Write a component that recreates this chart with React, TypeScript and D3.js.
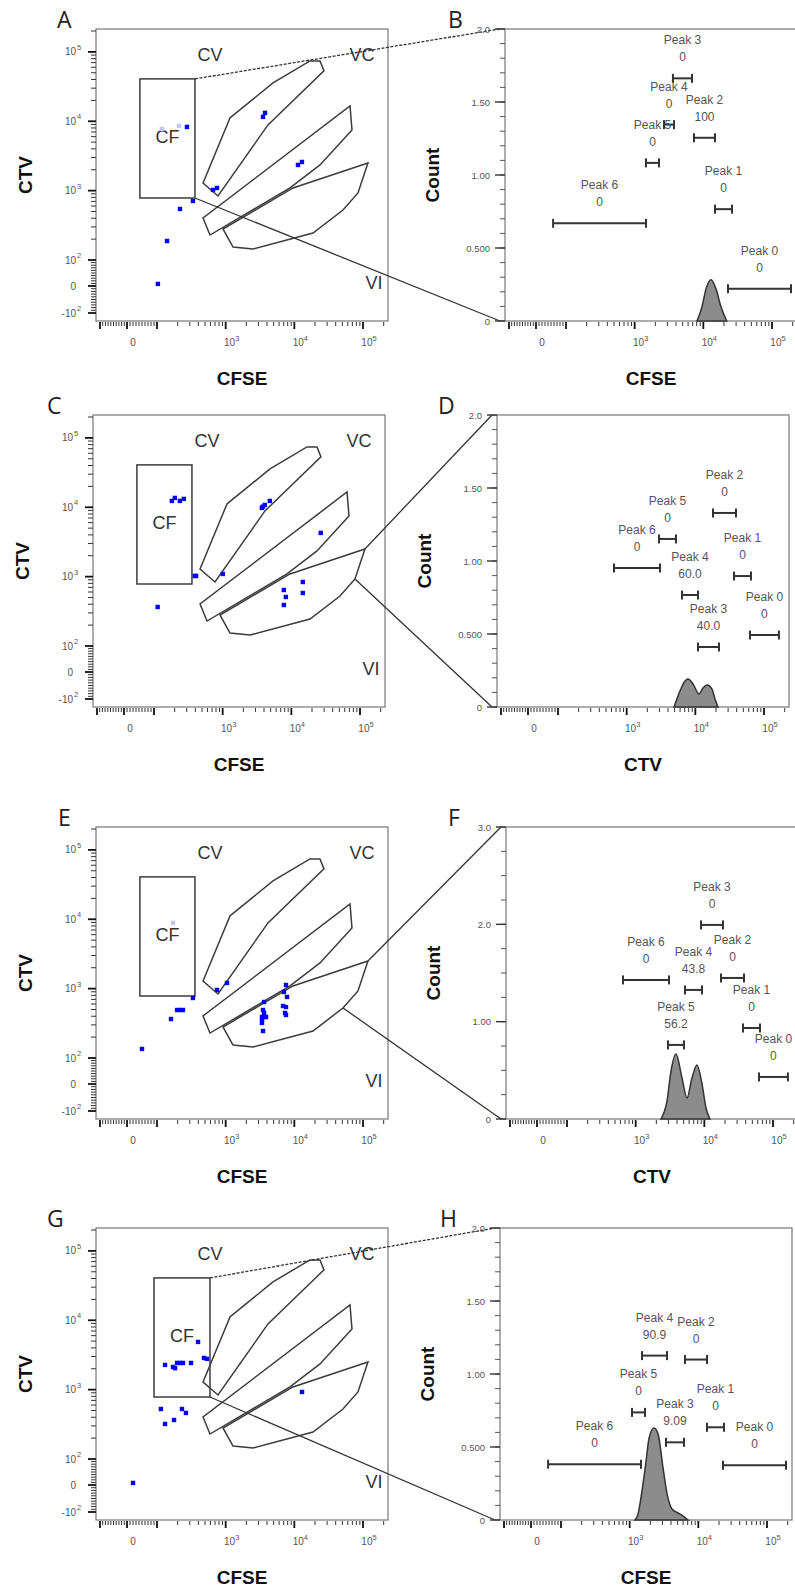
import React from 'react'
import * as d3 from 'd3'

type Pt = [number, number]

// gates drawn on every dot plot, in (CFSE, CTV) units
const gateCV: Pt[] = [[1156, 11170], [4890, 35700], [16900, 74200], [23650, 74200], [27000, 53200], [4130, 8850], [773, 838], [468, 1290]]
const gateVC: Pt[] = [[64700, 16600], [69100, 7500], [23650, 2346], [8650, 1093], [591, 229], [468, 403]]
const gateVI: Pt[] = [[118000, 2506], [84500, 925], [51100, 526], [18700, 245], [2500, 144], [1279, 154], [914, 280], [9550, 1093]]
// CF rectangle: x0, x1, y0, y1
const cfGate = [43, 357, 783, 40800]
const cfGateG = [90, 591, 783, 40800]

// events per dot plot
const dotsA: Pt[] = [[273, 8280], [3740, 13200], [3500, 11560], [12900, 2590], [11300, 2345], [748, 1093], [654, 1023], [334, 710], [216, 544], [140, 188], [103, 8]]
const faintA: Pt[] = [[209, 8570], [118, 7760]]
const dotsC: Pt[] = [[182, 12340], [201, 13640], [238, 12340], [272, 13200], [3720, 9790], [4110, 10800], [4860, 12340], [3850, 10200], [26800, 4265], [393, 1023], [410, 1023], [1005, 1093], [7780, 642], [8320, 509], [7780, 390], [14700, 838], [14700, 581], [113, 365]]
const dotsE: Pt[] = [[334, 734], [748, 957], [1045, 1207], [196, 492], [216, 492], [239, 492], [160, 365], [50, 135], [3620, 642], [3500, 492], [3620, 446], [3380, 390], [3740, 390], [3870, 390], [3380, 353], [3380, 320], [3500, 245], [7560, 1129], [7070, 895], [7820, 759], [6840, 562], [7560, 543], [7330, 446], [7560, 417]]
const faintE: Pt[] = [[171, 8850]]
const dotsG: Pt[] = [[396, 4870], [483, 2863], [532, 2780], [131, 2270], [171, 2123], [183, 2040], [196, 2425], [216, 2425], [239, 2425], [313, 2425], [12940, 925], [114, 526], [231, 526], [264, 461], [177, 365], [131, 320], [20, 8]]

// smoothed histograms (value, count)
const histB: Pt[] = [[8090, 0], [9550, 0.097], [10940, 0.22], [12920, 0.283], [15280, 0.22], [18070, 0.097], [21900, 0]]
const histD: Pt[] = [[4890, 0], [5980, 0.11], [7070, 0.178], [7820, 0.192], [9250, 0.158], [11300, 0.089], [12920, 0.13], [14780, 0.151], [17490, 0.123], [19330, 0.055], [21370, 0]]
const histF: Pt[] = [[2340, 0], [2860, 0.185], [3270, 0.493], [3870, 0.668], [4730, 0.421], [5590, 0.216], [6610, 0.421], [7820, 0.555], [9250, 0.36], [10570, 0.113], [12090, 0]]
const histH: Pt[] = [[1196, 0], [1322, 0.04], [1513, 0.2], [1729, 0.4], [1915, 0.56], [2260, 0.63], [2587, 0.59], [3055, 0.36], [3500, 0.18], [4130, 0.075], [5060, 0.048], [5980, 0.027], [7080, 0]]

// peak gates, Peak 0 .. Peak 6
const peakNames = ['Peak 0', 'Peak 1', 'Peak 2', 'Peak 3', 'Peak 4', 'Peak 5', 'Peak 6']
const peakValsB = ['0', '0', '100', '0', '0', '0', '0']
const peakRangeB: Pt[] = [[22860, 189000], [14780, 26130], [7310, 14780], [3610, 6840], [2673, 3740], [1462, 2260], [57, 1462]]
const peakYB = [0.221, 0.766, 1.255, 1.662, 1.345, 1.083, 0.669]
const peakValsD = ['0', '0', '0', '40.0', '60.0', '0', '0']
const peakRangeD: Pt[] = [[62500, 165000], [36560, 64700], [18070, 39100], [10940, 22100], [6390, 10940], [2958, 5230], [654, 3055]]
const peakYD = [0.493, 0.897, 1.329, 0.411, 0.767, 1.151, 0.952]
const peakValsF = ['0', '0', '0', '0', '43.8', '56.2', '0']
const peakRangeF: Pt[] = [[62500, 165000], [36560, 64700], [17490, 37800], [8940, 18700], [5230, 9250], [2958, 5060], [654, 3055]]
const peakYF = [0.432, 0.935, 1.449, 1.994, 1.326, 0.761, 1.429]
const peakValsH = ['0', '0', '0', '9.09', '90.9', '0', '0']
const peakRangeH: Pt[] = [[22860, 189000], [13370, 23650], [6390, 13370], [3380, 6180], [1513, 3500], [1081, 1672], [57, 1462]]
const peakYH = [0.375, 0.635, 1.099, 0.532, 1.126, 0.737, 0.382]

// count axes
const countTicks2 = [0, 0.5, 1, 1.5, 2]
const countLabels2 = ['0', '0.500', '1.00', '1.50', '2.0']
const countTicks3 = [0, 1, 2, 3]
const countLabels3 = ['0', '1.00', '2.0', '3.0']

// biex axis ticks
const majorVals = [-100, 0, 100, 1e3, 1e4, 1e5]
const minorVals = [
  ...d3.range(-90, 100, 10).filter(d => d !== 0),
  ...[1e2, 1e3, 1e4].flatMap(p => d3.range(2, 10).map(m => m * p)),
  2e5,
]
const xTickText: [number, string, string][] = [[0, '0', ''], [1e3, '10', '3'], [1e4, '10', '4'], [1e5, '10', '5']]
const yTickText: [number, string, string][] = [[1e5, '10', '5'], [1e4, '10', '4'], [1e3, '10', '3'], [1e2, '10', '2'], [0, '0', ''], [-100, '-10', '2']]

const BOX = 292
const FONT = "'Liberation Sans', Arial, sans-serif"

const rows = [
  { top: 29, sLeft: 96, hLeft: 505, letters: ['A', 'B'], lx: [57, 448], dots: dotsA, faint: faintA, cf: cfGate, link: 'cf', hist: histB, hLabel: 'CFSE', yMax: 2, ticks: countTicks2, tickLabels: countLabels2, minor: 0.1, vals: peakValsB, ranges: peakRangeB, ys: peakYB },
  { top: 415, sLeft: 93, hLeft: 497, letters: ['C', 'D'], lx: [47, 438], dots: dotsC, faint: [], cf: cfGate, link: [0, 1], hist: histD, hLabel: 'CTV', yMax: 2, ticks: countTicks2, tickLabels: countLabels2, minor: 0.1, vals: peakValsD, ranges: peakRangeD, ys: peakYD },
  { top: 827, sLeft: 96, hLeft: 506, letters: ['E', 'F'], lx: [58, 448], dots: dotsE, faint: faintE, cf: cfGate, link: [0, 2], hist: histF, hLabel: 'CTV', yMax: 3, ticks: countTicks3, tickLabels: countLabels3, minor: 0.25, vals: peakValsF, ranges: peakRangeF, ys: peakYF },
  { top: 1228, sLeft: 96, hLeft: 500, letters: ['G', 'H'], lx: [47, 440], dots: dotsG, faint: [], cf: cfGateG, link: 'cf', hist: histH, hLabel: 'CFSE', yMax: 2, ticks: countTicks2, tickLabels: countLabels2, minor: 0.1, vals: peakValsH, ranges: peakRangeH, ys: peakYH },
]

const biex = (v: number) => Math.abs(v) <= 100 ? v / 100 : Math.sign(v) * (1 + Math.log10(Math.abs(v) / 100))

function biexX(left: number) {
  const s = d3.scaleLinear().domain([-1.148, -1, 0, 1, 4.364]).range([0, 4, 31, 61, BOX].map(d => left + d))
  return (v: number) => s(biex(v))
}
function biexY(top: number) {
  const s = d3.scaleLinear().domain([-1.3, -1, 0, 1, 4.33]).range([BOX, 284, 257, 231, 0].map(d => top + d))
  return (v: number) => s(biex(v))
}

function XAxis({ x, bottom }: { x: (v: number) => number, bottom: number }) {
  return (
    <g>
      {minorVals.map(v => <line key={'m' + v} x1={x(v)} x2={x(v)} y1={bottom + 1} y2={bottom + 5} stroke="#333" strokeWidth={1} />)}
      {majorVals.map(v => <line key={'M' + v} x1={x(v)} x2={x(v)} y1={bottom + 1} y2={bottom + 8} stroke="#111" strokeWidth={1.8} />)}
      {xTickText.map(([v, b, e]) => (
        <text key={'t' + v} x={x(v) + 6} y={bottom + 25} textAnchor="middle" fontSize={10} fill="#555" fontFamily={FONT}>
          {b}{e && <tspan dy={-5} fontSize={7.5}>{e}</tspan>}
        </text>
      ))}
    </g>
  )
}

function YAxisBiex({ y, left }: { y: (v: number) => number, left: number }) {
  return (
    <g>
      {minorVals.map(v => <line key={'m' + v} x1={left - 5} x2={left} y1={y(v)} y2={y(v)} stroke="#333" strokeWidth={1} />)}
      {majorVals.map(v => <line key={'M' + v} x1={left - 8} x2={left} y1={y(v)} y2={y(v)} stroke="#111" strokeWidth={1.8} />)}
      {yTickText.map(([v, b, e]) => (
        <g key={'t' + v} fontFamily={FONT} fill="#555">
          <text x={left - 20} y={y(v) + 3.5} textAnchor="end" fontSize={10}>{b}</text>
          {e && <text x={left - 19} y={y(v) - 2} fontSize={7.5}>{e}</text>}
        </g>
      ))}
    </g>
  )
}

function DotPlot({ row }: { row: typeof rows[number] }) {
  const { top, sLeft, hLeft, cf } = row
  const x = biexX(sLeft)
  const y = biexY(top)
  const bottom = top + BOX
  const poly = (g: Pt[]) => d3.line<Pt>().x(d => x(d[0])).y(d => y(d[1])).curve(d3.curveLinearClosed)(g) || ''
  let linkTop: Pt, linkBottom: Pt
  if (row.link === 'cf') {
    linkTop = [cf[1], cf[3]]
    linkBottom = [cf[1], cf[2]]
  } else {
    const [a, b] = row.link as number[]
    linkTop = gateVI[a]
    linkBottom = gateVI[b]
  }
  const gateStroke = '#3c3c3c'
  return (
    <g>
      <text x={row.lx[0]} y={top - 1} fontSize={23} fontFamily="'Open Sans', sans-serif" fill="#222">{row.letters[0]}</text>
      <rect x={sLeft} y={top} width={BOX} height={BOX} fill="none" stroke="#777" strokeWidth={1.2} />
      <XAxis x={x} bottom={bottom} />
      <YAxisBiex y={y} left={sLeft} />
      <path d={poly(gateCV)} fill="none" stroke={gateStroke} strokeWidth={1.5} />
      <path d={poly(gateVC)} fill="none" stroke={gateStroke} strokeWidth={1.5} />
      <path d={poly(gateVI)} fill="none" stroke={gateStroke} strokeWidth={1.5} />
      <rect x={x(cf[0])} y={y(cf[3])} width={x(cf[1]) - x(cf[0])} height={y(cf[2]) - y(cf[3])} fill="none" stroke={gateStroke} strokeWidth={1.5} />
      <line x1={x(linkTop[0])} y1={y(linkTop[1])} x2={hLeft - 5} y2={top} stroke="#333" strokeWidth={1.3} strokeDasharray={row.link === 'cf' ? '3,1.5' : undefined} />
      <line x1={x(linkBottom[0])} y1={y(linkBottom[1])} x2={hLeft - 5} y2={bottom} stroke="#333" strokeWidth={1.3} />
      <g fontFamily={FONT} fontSize={18} fill="#333" textAnchor="middle">
        <text x={sLeft + 114} y={top + 32}>CV</text>
        <text x={sLeft + 266} y={top + 32}>VC</text>
        <text x={(x(cf[0]) + x(cf[1])) / 2} y={top + 114}>CF</text>
        <text x={sLeft + 278} y={top + 260}>VI</text>
      </g>
      {row.faint.map((d, i) => <rect key={'f' + i} x={x(d[0]) - 2.2} y={y(d[1]) - 2.2} width={4.4} height={4.4} fill="#c4c4ff" />)}
      {row.dots.map((d, i) => <rect key={'d' + i} x={x(d[0]) - 2.2} y={y(d[1]) - 2.2} width={4.4} height={4.4} fill="#0000ff" />)}
      <text transform={`translate(${sLeft - 64},${top + BOX / 2}) rotate(-90)`} textAnchor="middle" fontSize={19} fontWeight="bold" fontFamily={FONT} fill="#111">CTV</text>
      <text x={sLeft + BOX / 2} y={bottom + 64} textAnchor="middle" fontSize={19} fontWeight="bold" fontFamily={FONT} fill="#111">CFSE</text>
    </g>
  )
}

function Histogram({ row }: { row: typeof rows[number] }) {
  const { top, hLeft } = row
  const x = biexX(hLeft)
  const bottom = top + BOX
  const y = d3.scaleLinear().domain([0, row.yMax]).range([bottom, top])
  const area = d3.area<Pt>().x(d => x(d[0])).y0(y(0)).y1(d => y(d[1])).curve(d3.curveMonotoneX)
  const minorTicks = d3.range(0, row.yMax + 1e-6, row.minor)
  return (
    <g>
      <text x={row.lx[1]} y={top - 1} fontSize={23} fontFamily="'Open Sans', sans-serif" fill="#222">{row.letters[1]}</text>
      <rect x={hLeft} y={top} width={BOX} height={BOX} fill="none" stroke="#777" strokeWidth={1.2} />
      <XAxis x={x} bottom={bottom} />
      {minorTicks.map(v => <line key={'m' + v} x1={hLeft - 5} x2={hLeft} y1={y(v)} y2={y(v)} stroke="#555" strokeWidth={1} />)}
      {row.ticks.map((v, i) => (
        <g key={'M' + v}>
          <line x1={hLeft - 10} x2={hLeft} y1={y(v)} y2={y(v)} stroke="#333" strokeWidth={1.4} />
          <text x={hLeft - 15} y={y(v) + 3.5} textAnchor="end" fontSize={9.5} fill="#555" fontFamily={FONT}>{row.tickLabels[i]}</text>
        </g>
      ))}
      <path d={area(row.hist) || ''} fill="#8c8c8c" stroke="#333" strokeWidth={1.5} />
      {row.ranges.map((r, i) => {
        const x0 = x(r[0]), x1 = x(r[1]), yy = y(row.ys[i]), cx = (x0 + x1) / 2
        return (
          <g key={'p' + i}>
            <line x1={x0} x2={x1} y1={yy} y2={yy} stroke="#333" strokeWidth={2} />
            <line x1={x0} x2={x0} y1={yy - 4.5} y2={yy + 4.5} stroke="#333" strokeWidth={2} />
            <line x1={x1} x2={x1} y1={yy - 4.5} y2={yy + 4.5} stroke="#333" strokeWidth={2} />
            <text x={cx} y={yy - 34} textAnchor="middle" fontSize={12} fill="#555" fontFamily={FONT}>{peakNames[i]}</text>
            <text x={cx} y={yy - 17} textAnchor="middle" fontSize={12} fill="#555" fontFamily={FONT}>{row.vals[i]}</text>
          </g>
        )
      })}
      <text transform={`translate(${hLeft - 66},${top + BOX / 2}) rotate(-90)`} textAnchor="middle" fontSize={19} fontWeight="bold" fontFamily={FONT} fill="#111">Count</text>
      <text x={hLeft + BOX / 2} y={bottom + 64} textAnchor="middle" fontSize={19} fontWeight="bold" fontFamily={FONT} fill="#111">{row.hLabel}</text>
    </g>
  )
}

export default function App() {
  return (
    <svg width={795} height={1591} style={{ position: 'absolute', left: 0, top: 0, background: '#fff' }}>
      <rect width={795} height={1591} fill="#fff" />
      {rows.map((row, i) => (
        <g key={i}>
          <DotPlot row={row} />
          <Histogram row={row} />
        </g>
      ))}
    </svg>
  )
}
